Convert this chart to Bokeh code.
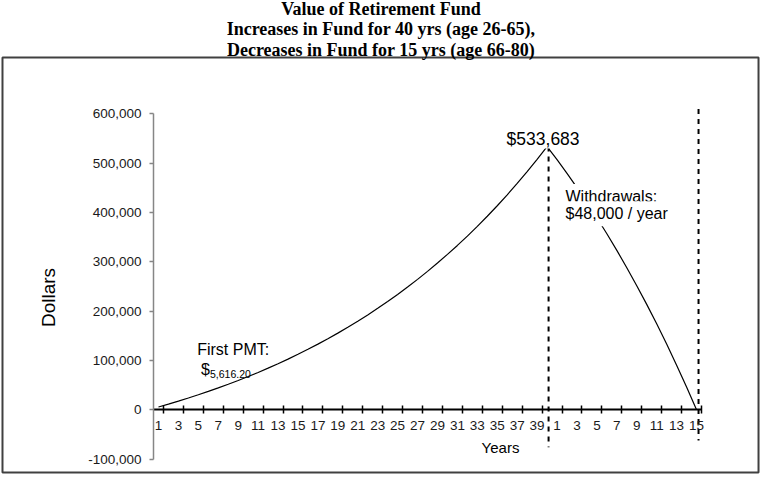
import math
from bokeh.plotting import figure
from bokeh.models import (Range1d, LinearAxis, FixedTicker, NumeralTickFormatter, Label,
                          ColumnDataSource, BoxAnnotation)
from bokeh.embed import file_html
from bokeh.resources import INLINE

# ---------------- data ----------------
title_lines = ["Value of Retirement Fund",
               "Increases in Fund for 40 yrs (age 26-65),",
               "Decreases in Fund for 15 yrs (age 66-80)"]
deposit_years = list(range(1, 41))
withdraw_years = list(range(1, 16))
fund_growth = [5616, 11457, 17532, 23849, 30419, 37252, 44358, 51749, 59435, 67429,
               75742, 84388, 93380, 102731, 112457, 122572, 133090, 144030, 155408, 167241,
               179546, 192345, 205655, 219497, 233893, 248865, 264436, 280630, 297471, 314986,
               333202, 352146, 371848, 392338, 413648, 435810, 458858, 482829, 507758, 533683]
fund_withdraw = [507028, 479309, 450485, 420504, 389323, 356894, 323170, 288101,
                 251621, 213686, 174235, 133205, 90533, 46154, 0]
first_pmt = 5616.20
annual_withdrawal = 48000
y_ticks = [-100000, 0, 100000, 200000, 300000, 400000, 500000, 600000]

# ---------------- derived ----------------
n_dep = len(deposit_years)
n_all = n_dep + len(withdraw_years)
x_pos = list(range(1, n_all + 1))
values = fund_growth + fund_withdraw
labels_all = [str(y) for y in deposit_years] + [str(y) for y in withdraw_years]
label_ticks = [x for x in x_pos if x % 2 == 1]
overrides = {x: labels_all[x - 1] for x in label_ticks}
boundary_ticks = [x + 0.5 for x in label_ticks]
peak_idx = values.index(max(values))
peak_x = x_pos[peak_idx]
peak_val = values[peak_idx]
end_x = x_pos[-1]

SANS = "Liberation Sans"
SERIF = "Liberation Serif"
W, H = 764, 480

p = figure(width=W, height=H,
           x_range=Range1d(-14.855, 61.82), y_range=Range1d(-143320, 829720),
           x_axis_type=None, y_axis_type=None, title=None,
           toolbar_location=None, output_backend="svg",
           min_border_left=0, min_border_right=0, min_border_top=0, min_border_bottom=0)
p.outline_line_color = None
p.background_fill_color = "white"
p.border_fill_color = "white"

# chart-area border box
p.add_layout(BoxAnnotation(left=-14.655, right=61.22, top=714170, bottom=-127100,
                           fill_alpha=0, line_color="#404040", line_alpha=1, line_width=2))

# y axis
yax = LinearAxis(fixed_location=0.5, bounds=(y_ticks[0], y_ticks[-1]),
                 ticker=FixedTicker(ticks=y_ticks), formatter=NumeralTickFormatter(format="0,0"))
yax.axis_line_color = "#868686"
yax.axis_line_width = 1.5
yax.major_tick_line_color = "#868686"
yax.major_tick_line_width = 1.5
yax.major_tick_in = 0
yax.major_tick_out = 4
yax.minor_tick_line_color = None
yax.major_label_standoff = 8
yax.major_label_text_font = SANS
yax.major_label_text_font_size = "13.5px"
yax.major_label_text_color = "#1a1a1a"
p.add_layout(yax, "left")

# x axis line with boundary tick marks
xax = LinearAxis(fixed_location=0, bounds=(0.5, n_all + 0.5),
                 ticker=FixedTicker(ticks=boundary_ticks))
xax.axis_line_color = "black"
xax.axis_line_width = 2
xax.major_tick_line_color = "black"
xax.major_tick_line_width = 1.5
xax.major_tick_in = 4
xax.major_tick_out = 4
xax.minor_tick_line_color = None
xax.major_label_text_alpha = 0
xax.major_label_text_font_size = "1px"
p.add_layout(xax, "below")

# x labels axis
xlab = LinearAxis(fixed_location=0, ticker=FixedTicker(ticks=label_ticks),
                  major_label_overrides=overrides)
xlab.axis_line_color = None
xlab.major_tick_line_color = None
xlab.minor_tick_line_color = None
xlab.major_label_standoff = 5
xlab.major_label_text_font = SANS
xlab.major_label_text_font_size = "13.5px"
xlab.major_label_text_color = "#1a1a1a"
p.add_layout(xlab, "below")

# curve
src = ColumnDataSource(dict(x=x_pos, y=values))
p.line("x", "y", source=src, line_color="black", line_width=1.2)

# dashed markers
p.segment(x0=[peak_x + 0.15, end_x + 0.2], y0=[peak_val, 610000],
          x1=[peak_x + 0.15, end_x + 0.2], y1=[-76000, -62000],
          line_color="black", line_width=2, line_dash="5 5")

# ---------------- annotations ----------------
DY = 4  # baseline correction (px, upward)

def sl(text, sx, sy, size, font=SANS, align="left", style="normal", baseline="alphabetic", **kw):
    lab = Label(x=sx, y=H - sy + DY, x_units="screen", y_units="screen", text=text,
                text_font=font, text_font_size=size, text_align=align,
                text_baseline=baseline, text_font_style=style, text_color="black", **kw)
    p.add_layout(lab)
    return lab

# title
for txt, by in zip(title_lines, [12.3, 32.9, 53.5]):
    sl(txt, 380.5, by, "18px", font=SERIF, align="center", style="bold")

# peak label
p.add_layout(Label(x=peak_x, y=peak_val, x_offset=-4, y_offset=-2,
                   text="$" + f"{peak_val:,}", text_font=SANS, text_font_size="17.5px",
                   text_align="center", text_baseline="bottom", text_color="black",
                   background_fill_color="white", padding=0))

# withdrawals text
sl("Withdrawals:", 561, 200, "16px", background_fill_color="white", padding=4)
sl("$" + f"{annual_withdrawal:,}" + " / year", 561, 217.3, "16px",
   background_fill_color="white", padding=4)

# first payment text
sl("First PMT:", 196.7, 353, "16px")
sl("$", 200.5, 373, "16px")
sl(f"{first_pmt:,.2f}", 209.5, 377, "10.5px")

# axis titles
sl("Years", 500, 451, "15px", align="center")
p.add_layout(Label(x=48, y=H - 297, x_units="screen", y_units="screen", text="Dollars",
                   text_font=SANS, text_font_size="19px", text_align="center",
                   text_baseline="middle", angle=math.pi / 2, text_color="black"))

open("out.html", "w").write(file_html(p, INLINE))
